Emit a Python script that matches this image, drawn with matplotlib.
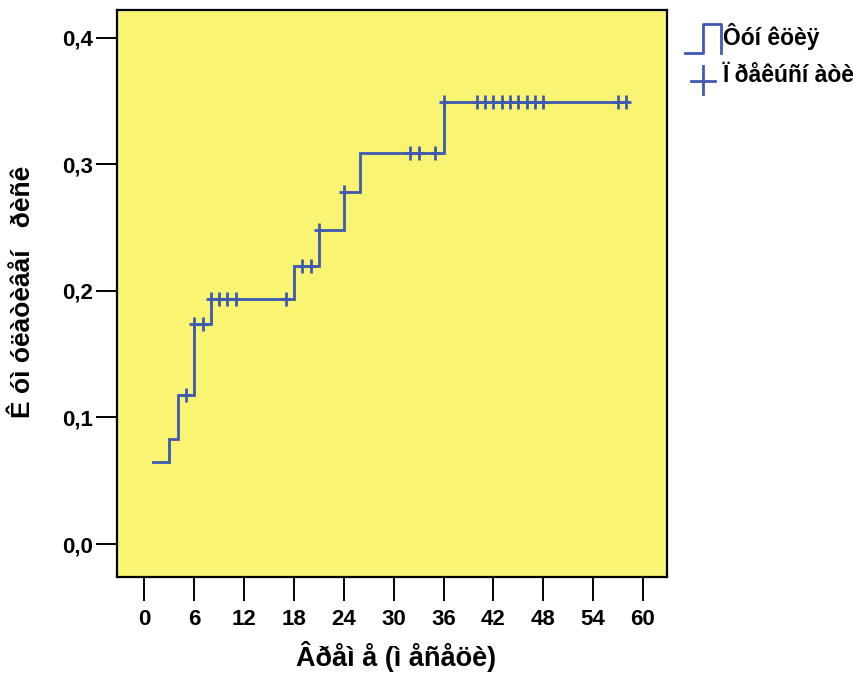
import numpy as np
import matplotlib
matplotlib.use("Agg")
import matplotlib.pyplot as plt
from matplotlib.path import Path
from matplotlib.lines import Line2D

# Cumulative risk curve (step function) and censored observations, time in months
event_times = [1, 3, 4, 6, 8, 18, 21, 24, 26, 36]
cum_risk = [0.065, 0.083, 0.118, 0.174, 0.194, 0.220, 0.248, 0.278, 0.309, 0.349]
end_time = 58
censored_times = [5, 6, 7, 8, 9, 10, 11, 17, 19, 20, 21, 24, 32, 33, 35, 36,
                  40, 41, 42, 43, 44, 45, 46, 47, 48, 57, 58]

x_ticks = [0, 6, 12, 18, 24, 30, 36, 42, 48, 54, 60]
y_ticks = [0.0, 0.1, 0.2, 0.3, 0.4]
y_ticklabels = ["0,0", "0,1", "0,2", "0,3", "0,4"]

x_label = "Âðåì å (ì åñåöè)"
y_label = "Ê óì óëàòèâåí   ðèñê"
legend_labels = ["Ôóí êöèÿ", "Ï ðåêúñí àòè"]

line_color = "#3F59B1"
panel_color = "#F9F572"
font = ["Liberation Sans", "DejaVu Sans"]

W, H = 854, 677
fig = plt.figure(figsize=(W / 100, H / 100), dpi=100)
fig.patch.set_facecolor("white")

left, right, top, bottom = 117, 667, 10, 577
ax = fig.add_axes([left / W, 1 - bottom / H, (right - left) / W, (bottom - top) / H])
ax.set_facecolor(panel_color)

# step curve
xs = list(event_times) + [end_time]
ys = list(cum_risk) + [cum_risk[-1]]
ax.step(xs, ys, where="post", color=line_color, lw=2.0, solid_joinstyle="miter")

# censor marks: taller than wide cross
cross = Path([(-0.7, 0), (0.7, 0), (0, -1), (0, 1)],
             [Path.MOVETO, Path.LINETO, Path.MOVETO, Path.LINETO])
ev = np.array(event_times)
cr = np.array(cum_risk)
cens_y = [cr[np.searchsorted(ev, t, side="right") - 1] for t in censored_times]
ax.plot(censored_times, cens_y, ls="none", marker=cross, ms=10.5,
        mec=line_color, mew=2.0)

ax.set_xlim(-3.3, 62.9)
ax.set_ylim(-0.026, 0.4219)
ax.set_xticks(x_ticks)
ax.set_yticks(y_ticks)
ax.set_yticklabels(y_ticklabels)

for sp in ax.spines.values():
    sp.set_linewidth(1.6)
    sp.set_color("black")
ax.tick_params(axis="x", direction="out", length=17, width=1.4, pad=6)
ax.tick_params(axis="y", direction="out", length=15, width=1.4, pad=2)
for lab in ax.get_xticklabels() + ax.get_yticklabels():
    lab.set_fontfamily(font)
    lab.set_fontweight("bold")
    lab.set_fontsize(16)

fig.text(396 / W, 1 - 656 / H, x_label, ha="center", va="center",
         fontsize=19.5, fontweight="bold", family=font)
fig.text(23 / W, 1 - 292 / H, y_label, ha="center", va="center", rotation=90,
         fontsize=19, fontweight="bold", family=font)

# legend, drawn in figure pixel coordinates
def px(x, y):
    return x / W, 1 - y / H

sx, sy = zip(*[px(685, 53), px(703, 53), px(703, 24), px(721, 24), px(721, 53)])
fig.add_artist(Line2D(sx, sy, color=line_color, lw=2.0, transform=fig.transFigure))
hx, hy = zip(*[px(691, 81), px(715, 81)])
fig.add_artist(Line2D(hx, hy, color=line_color, lw=2.0, transform=fig.transFigure))
vx, vy = zip(*[px(703, 66), px(703, 94)])
fig.add_artist(Line2D(vx, vy, color=line_color, lw=2.0, transform=fig.transFigure))
fig.text(*px(723, 37), legend_labels[0], ha="left", va="center",
         fontsize=16.5, fontweight="bold", family=font)
fig.text(*px(723, 76), legend_labels[1], ha="left", va="center",
         fontsize=16.5, fontweight="bold", family=font)

fig.savefig("out.png", dpi=100)
